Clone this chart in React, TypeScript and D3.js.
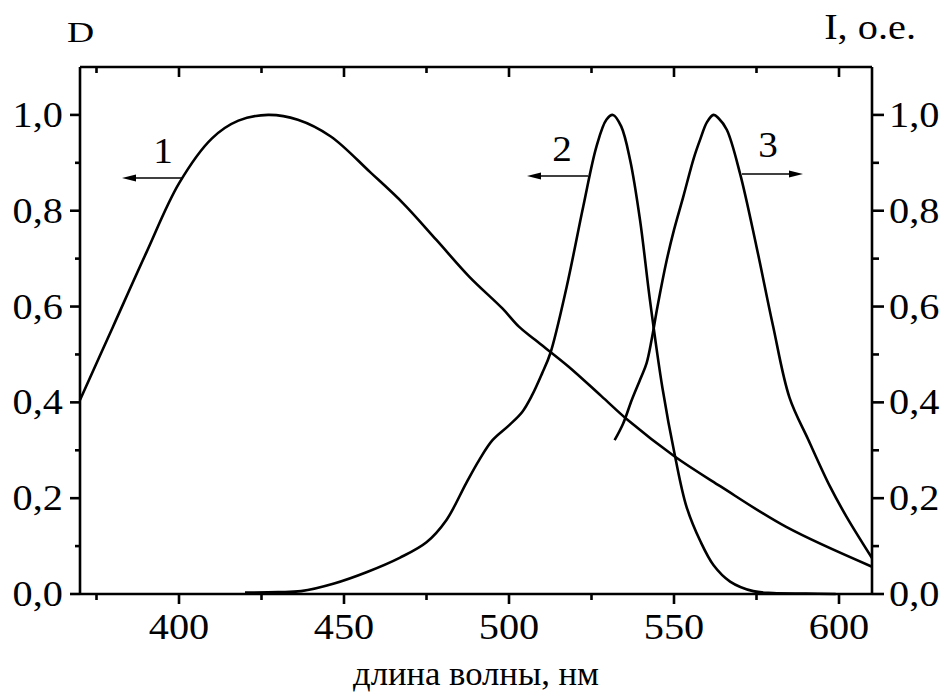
import React from "react";
import * as d3 from "d3";

// Curve 1: absorption D (left axis)
const curve1Nm = [370, 380, 390, 400, 410, 418, 427, 436, 446, 458, 468, 478, 488, 498, 503, 508, 518, 528, 536, 550, 564, 584, 610];
const curve1Val = [0.405, 0.558, 0.711, 0.857, 0.951, 0.988, 1.0, 0.99, 0.955, 0.88, 0.815, 0.739, 0.662, 0.596, 0.558, 0.53, 0.475, 0.413, 0.363, 0.288, 0.225, 0.14, 0.057];

// Curve 2: absorption D (left axis)
const curve2Nm = [420, 430, 437, 447, 457, 467, 475, 481, 487, 491, 495, 500, 504, 507, 510, 512.5, 517.5, 522.5, 526.5, 529.5, 531.5, 534, 536.7, 539.7, 542.7, 546.5, 550.3, 553.8, 558, 562, 567, 574, 580, 590, 599];
const curve2Val = [0.003, 0.004, 0.006, 0.022, 0.046, 0.076, 0.108, 0.154, 0.231, 0.28, 0.321, 0.352, 0.38, 0.415, 0.46, 0.502, 0.642, 0.809, 0.934, 0.99, 1.0, 0.976, 0.906, 0.781, 0.614, 0.43, 0.288, 0.182, 0.11, 0.06, 0.026, 0.006, 0.002, 0.001, 0.0];

// Curve 3: fluorescence I (right axis)
const curve3Nm = [532, 534.6, 537.2, 540, 541.7, 543.2, 545, 547.8, 550, 552.8, 556, 558, 560, 562, 563.5, 566, 570, 575, 580, 585, 590.7, 597.3, 602.3, 610];
const curve3Val = [0.321, 0.356, 0.405, 0.452, 0.482, 0.53, 0.6, 0.697, 0.76, 0.829, 0.91, 0.95, 0.985, 1.0, 0.993, 0.969, 0.878, 0.725, 0.56, 0.41, 0.322, 0.224, 0.161, 0.075];

const xMajorTicks = [400, 450, 500, 550, 600];
const xMinorTicks = [375, 425, 475, 525, 575];
const yMajorTicks = [0, 0.2, 0.4, 0.6, 0.8, 1.0];
const yMinorTicks = [0.1, 0.3, 0.5, 0.7, 0.9];

const leftTitle = "D";
const rightTitle = "I, o.e.";
const xTitle = "длина волны, нм";
const fmt = (v: number) => v.toFixed(1).replace(".", ",");

export default function App() {
  const W = 943, H = 695;
  const x = d3.scaleLinear().domain([370, 610]).range([80, 872]);
  const y = d3.scaleLinear().domain([0, 1.1]).range([594, 67]);
  const line = d3
    .line<[number, number]>()
    .x((d) => x(d[0]))
    .y((d) => y(d[1]))
    .curve(d3.curveCatmullRom.alpha(0.5));
  const zip = (a: number[], b: number[]) => a.map((v, i) => [v, b[i]] as [number, number]);
  const font = "'Liberation Serif', 'Times New Roman', serif";
  const x0 = x(370), x1 = x(610), yT = y(1.1), yB = y(0);
  const sx = 1.12;

  const arrow = (xs: number, xe: number, yy: number, key: string) => {
    const dir = xe > xs ? 1 : -1;
    const hl = 14, hw = 3.5;
    return (
      <g key={key}>
        <line x1={xs} y1={yy} x2={xe - dir * hl * 0.8} y2={yy} stroke="#000" strokeWidth={1.4} />
        <path d={`M${xe},${yy} L${xe - dir * hl},${yy - hw} L${xe - dir * hl},${yy + hw} Z`} fill="#000" />
      </g>
    );
  };

  return (
    <svg width={W} height={H} style={{ position: "absolute", left: 0, top: 0, background: "#fff" }}>
      <rect x={0} y={0} width={W} height={H} fill="#fff" />
      {/* curves */}
      <g fill="none" stroke="#000" strokeWidth={2.6} strokeLinejoin="round">
        <path d={line(zip(curve1Nm, curve1Val)) || ""} />
        <path d={line(zip(curve2Nm, curve2Val)) || ""} />
        <path d={line(zip(curve3Nm, curve3Val)) || ""} />
      </g>
      {/* frame */}
      <g stroke="#000" strokeWidth={2.6}>
        <line x1={x0} y1={yT} x2={x1} y2={yT} />
        <line x1={x0} y1={yB} x2={x1} y2={yB} />
        <line x1={x0} y1={yT} x2={x0} y2={yB} />
        <line x1={x1} y1={yT} x2={x1} y2={yB} />
        {xMajorTicks.map((t) => (
          <g key={"xm" + t}>
            <line x1={x(t)} y1={yB} x2={x(t)} y2={yB + 10} />
            <line x1={x(t)} y1={yT} x2={x(t)} y2={yT + 10} />
          </g>
        ))}
        {xMinorTicks.map((t) => (
          <g key={"xn" + t}>
            <line x1={x(t)} y1={yB} x2={x(t)} y2={yB + 6} />
            <line x1={x(t)} y1={yT} x2={x(t)} y2={yT + 6} />
          </g>
        ))}
        {yMajorTicks.map((t) => (
          <g key={"ym" + t}>
            <line x1={x0} y1={y(t)} x2={x0 - 10} y2={y(t)} />
            <line x1={x1} y1={y(t)} x2={x1 + 12} y2={y(t)} />
          </g>
        ))}
        {yMinorTicks.map((t) => (
          <g key={"yn" + t}>
            <line x1={x0} y1={y(t)} x2={x0 - 5} y2={y(t)} />
            <line x1={x1} y1={y(t)} x2={x1 + 7} y2={y(t)} />
          </g>
        ))}
      </g>
      {/* tick labels */}
      <g fontFamily={font} fontSize={36} fill="#000">
        {xMajorTicks.map((t) => (
          <text key={"xl" + t} transform={`translate(${x(t)},639) scale(${sx},1)`} textAnchor="middle">{t}</text>
        ))}
        {yMajorTicks.map((t) => (
          <text key={"yl" + t} transform={`translate(63,${y(t) + 12}) scale(${sx},1)`} textAnchor="end">{fmt(t)}</text>
        ))}
        {yMajorTicks.map((t) => (
          <text key={"yr" + t} transform={`translate(889,${y(t) + 12}) scale(${sx},1)`} textAnchor="start">{fmt(t)}</text>
        ))}
      </g>
      {/* titles */}
      <text fontFamily={font} fontSize={29} fill="#000" transform="translate(67,42) scale(1.3,1)">{leftTitle}</text>
      <text fontFamily={font} fontSize={36} fill="#000" transform={`translate(916,39) scale(${sx},1)`} textAnchor="end">{rightTitle}</text>
      <text fontFamily={font} fontSize={33} fill="#000" transform={`translate(476,685) scale(1.05,1)`} textAnchor="middle">{xTitle}</text>
      {/* annotations */}
      <g fontFamily={font} fontSize={35} textAnchor="middle" fill="#000">
        <text transform={`translate(163,163) scale(${sx},1)`}>1</text>
        <text transform={`translate(562,161) scale(${sx},1)`}>2</text>
        <text transform={`translate(768,157) scale(${sx},1)`}>3</text>
      </g>
      {arrow(183, 122, 178, "a1")}
      {arrow(588, 527, 176, "a2")}
      {arrow(742, 803, 174, "a3")}
    </svg>
  );
}
